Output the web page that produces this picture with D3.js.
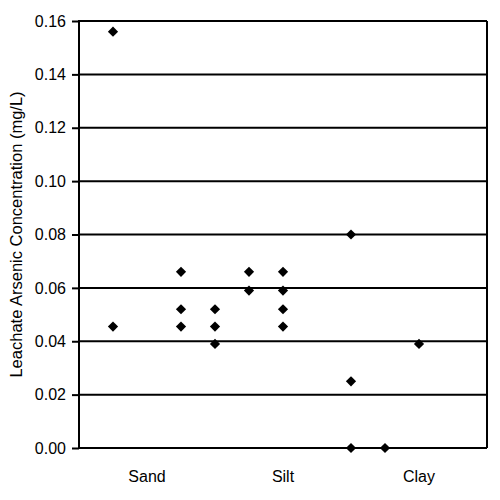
<!DOCTYPE html>
<html>
<head>
<meta charset="utf-8">
<script src="https://cdn.jsdelivr.net/npm/d3@7"></script>
<style>
  body { margin: 0; background: #fff; }
  text { font-family: "Liberation Sans", Arial, sans-serif; fill: #000; }
</style>
</head>
<body>
<div id="chart"></div>
<script>
// soil categories and where their labels sit on the x scale
const categories = ['Sand', 'Silt', 'Clay']
const categoryX = [2, 6, 10]

// leachate samples: column position and arsenic concentration (mg/L)
const sampleX = [1, 1, 3, 3, 3, 4, 4, 4, 5, 5, 6, 6, 6, 6, 8, 8, 8, 9, 10]
const sampleValue = [0.156, 0.0455, 0.066, 0.052, 0.0455, 0.052, 0.0455, 0.039, 0.066, 0.059,
                     0.066, 0.059, 0.052, 0.0455, 0.080, 0.025, 0.0, 0.0, 0.039]

const yTicks = [0, 0.02, 0.04, 0.06, 0.08, 0.10, 0.12, 0.14, 0.16]

const width = 500, height = 500
const margin = { top: 21, right: 13, bottom: 52, left: 79 }
const innerW = width - margin.left - margin.right
const innerH = height - margin.top - margin.bottom

const svg = d3.select('#chart')
    .append('svg')
    .attr('width', width)
    .attr('height', height)

const g = svg.append('g')
    .attr('transform', `translate(${margin.left}, ${margin.top})`)

const x = d3.scaleLinear().domain([0, 12]).range([0, innerW])
const y = d3.scaleLinear().domain([0, 0.16]).range([innerH, 0])

// horizontal gridlines
g.selectAll('.grid')
    .data(yTicks.slice(1))
    .enter()
    .append('line')
    .attr('class', 'grid')
    .attr('x1', 0)
    .attr('x2', innerW)
    .attr('y1', d => y(d))
    .attr('y2', d => y(d))
    .style('stroke', '#000')
    .style('stroke-width', 2)

// right border
g.append('line')
    .attr('x1', innerW).attr('x2', innerW)
    .attr('y1', 0).attr('y2', innerH)
    .style('stroke', '#000')
    .style('stroke-width', 2)

// y axis
const yAxis = g.append('g')
    .call(d3.axisLeft(y).tickValues(yTicks).tickFormat(d3.format('.2f')).tickSize(7).tickPadding(6))
yAxis.select('.domain').remove()
yAxis.selectAll('.tick line').style('stroke', '#000').style('stroke-width', 2)
yAxis.selectAll('.tick text').style('font-size', '16px').style('fill', '#000')
yAxis.append('line')
    .attr('x1', 0).attr('x2', 0)
    .attr('y1', -1).attr('y2', innerH + 1)
    .style('stroke', '#000')
    .style('stroke-width', 2)

// x axis baseline
g.append('line')
    .attr('x1', 0).attr('x2', innerW)
    .attr('y1', innerH).attr('y2', innerH)
    .style('stroke', '#000')
    .style('stroke-width', 2)

// category labels
g.selectAll('.cat')
    .data(categories)
    .enter()
    .append('text')
    .attr('class', 'cat')
    .attr('x', (d, i) => x(categoryX[i]))
    .attr('y', innerH + 34)
    .attr('text-anchor', 'middle')
    .style('font-size', '16px')
    .text(d => d)

// y axis title
svg.append('text')
    .attr('transform', `translate(22, ${margin.top + innerH / 2}) rotate(-90)`)
    .attr('text-anchor', 'middle')
    .style('font-size', '16.5px')
    .text('Leachate Arsenic Concentration (mg/L)')

// diamond markers
const diamond = d3.symbol().type(d3.symbolSquare).size(52)
g.selectAll('.pt')
    .data(sampleValue)
    .enter()
    .append('path')
    .attr('class', 'pt')
    .attr('d', diamond)
    .attr('transform', (d, i) => `translate(${x(sampleX[i])}, ${y(d)}) rotate(45)`)
    .style('fill', '#000')
</script>
</body>
</html>
